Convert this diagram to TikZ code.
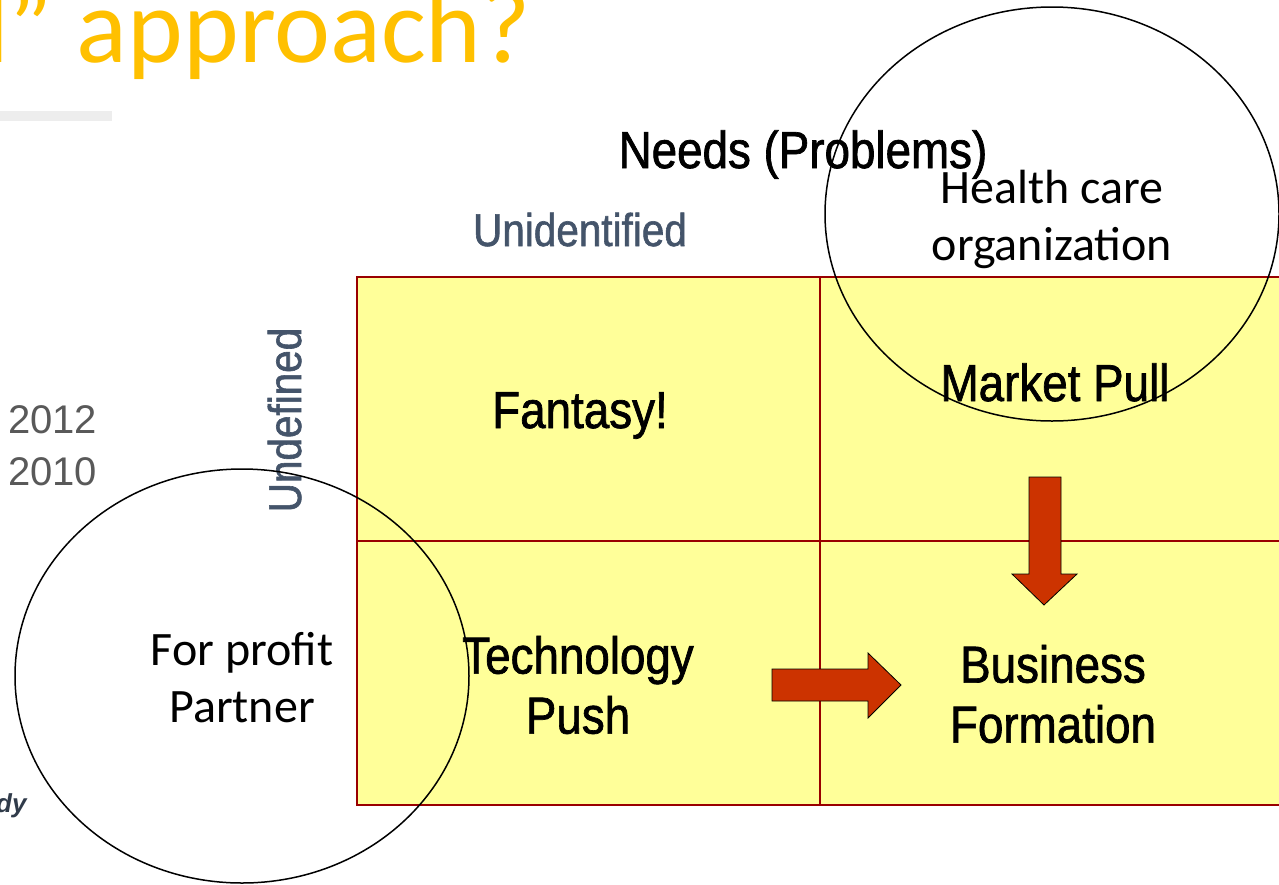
\documentclass[tikz,border=0pt]{standalone}
\usepackage{fontspec}
\setmainfont{Liberation Sans}
\newfontfamily\narrowfont[FakeStretch=0.88,FakeBold=1.3]{Liberation Sans}
\newfontfamily\calfont{Carlito}
\usetikzlibrary{positioning,shapes.geometric}
\definecolor{cellyellow}{HTML}{FFFF99}
\definecolor{gridred}{HTML}{990000}
\definecolor{arrowred}{HTML}{CC3300}
\definecolor{axisgray}{HTML}{44546A}
\definecolor{titleyellow}{HTML}{FFC000}
\definecolor{legendgray}{HTML}{595959}

\begin{document}
\begin{tikzpicture}[x=1pt,y=-1pt,
  cell/.style={draw=gridred, fill=cellyellow, line width=1.6pt, inner sep=0pt, outer sep=0pt,
    minimum width=463pt, minimum height=264pt},
  big/.style={font=\narrowfont\fontsize{52}{60}\selectfont, align=center},
  axis/.style={font=\narrowfont\fontsize{46}{52}\selectfont, text=axisgray},
  ring/.style={draw, ellipse, line width=1.5pt, inner sep=0pt,
    minimum width=454pt, minimum height=414pt},
  ringtext/.style={font=\calfont\fontsize{48}{57}\selectfont, align=center},
  bigarrow/.style={draw=black, fill=arrowred, line width=0.8pt, line join=miter}]
\useasboundingbox (0,0) rectangle (1279,884);
\clip (0,0) rectangle (1279,884);

% bits of the slide behind
\node[anchor=base east, text=titleyellow, font=\calfont\fontsize{106}{112}\selectfont, inner sep=0pt] (title) at (531,62) {d” approach?};
\fill[black!7] (0,111) rectangle (112,121);
\node[anchor=base west, text=legendgray, font=\fontsize{40}{44}\selectfont, inner sep=0pt] (y12) at (8,433) {2012};
\node[anchor=base west, text=legendgray, font=\fontsize{40}{44}\selectfont, inner sep=0pt] (y10) at (8,485) {2010};
\node[anchor=base west, text=axisgray!70!black, font=\bfseries\itshape\fontsize{26}{30}\selectfont, inner sep=0pt] (dy) at (-4,812) {dy};

% the grid
\node[cell, anchor=north west] (fan) at (357,277) {};
\node[cell, right=0pt of fan] (mkt) {};
\node[cell, below=0pt of fan] (tech) {};
\node[cell, below=0pt of mkt] (biz) {};

\node[big, anchor=base] (needs) at (803,168) {Needs (Problems)};
\node[axis, anchor=base] (unid) at (580,246) {Unidentified};
\node[axis, anchor=base, rotate=90] (undef) at (301,420) {Undefined};

\node[big, anchor=base] (fantasy) at (580,428) {Fantasy!};
\node[big, anchor=base] (pull) at (1055,401) {Market Pull};
\node[big] (push) at (578,685) {Technology\\Push};
\node[big] (form) at (1053,694) {Business\\Formation};

% arrows
\draw[bigarrow] (1029,477) -- (1061,477) -- (1061,574) -- (1077,574) -- (1044,605)
  -- (1012,574) -- (1029,574) -- cycle;
\draw[bigarrow] (772,669) -- (868,669) -- (868,653) -- (901,685) -- (868,718)
  -- (868,701) -- (772,701) -- cycle;

% partners
\node[ring] (hco) at (1052,214) {};
\node[ringtext] (hcotext) at ([yshift=-5pt]hco.center) {Health care\\organization};
\node[ring] (fpp) at (242,676) {};
\node[ringtext] (fpptext) at ([yshift=-2pt]fpp.center) {For profit\\Partner};
\end{tikzpicture}
\end{document}
